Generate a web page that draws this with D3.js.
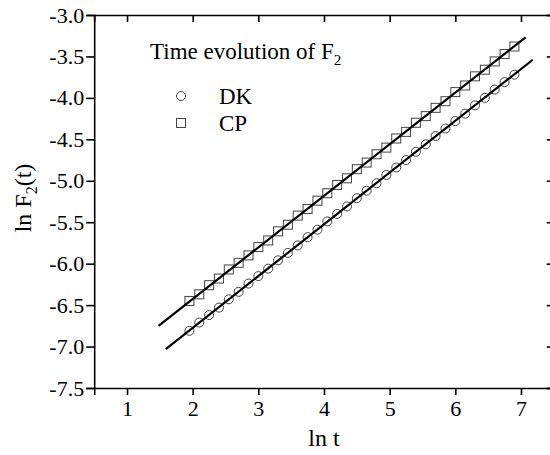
<!DOCTYPE html>
<html>
<head>
<meta charset="utf-8">
<script src="https://cdn.jsdelivr.net/npm/d3@7"></script>
<style>
  html, body { margin: 0; padding: 0; background: #fff; }
  svg { display: block; }
  svg text { font-family: "Liberation Serif", "Times New Roman", serif !important; fill: #000; }
</style>
</head>
<body>
<script>
// ---- data ----
const lnT = [1.95, 2.10, 2.25, 2.40, 2.55, 2.70, 2.85, 3.00, 3.15, 3.30, 3.45, 3.60,
             3.75, 3.90, 4.05, 4.20, 4.35, 4.50, 4.65, 4.80, 4.95, 5.10, 5.25, 5.40,
             5.55, 5.70, 5.85, 6.00, 6.15, 6.30, 6.45, 6.60, 6.75, 6.90];
const cpValues = [-6.45, -6.37, -6.26, -6.18, -6.07, -5.99, -5.90, -5.80, -5.72, -5.61, -5.53, -5.42,
                  -5.34, -5.24, -5.15, -5.05, -4.97, -4.86, -4.78, -4.68, -4.60, -4.49, -4.41, -4.30,
                  -4.22, -4.12, -4.04, -3.93, -3.85, -3.74, -3.66, -3.56, -3.47, -3.38];
const dkValues = [-6.81, -6.71, -6.62, -6.53, -6.43, -6.34, -6.24, -6.15, -6.06, -5.96, -5.87, -5.78,
                  -5.68, -5.59, -5.49, -5.40, -5.31, -5.21, -5.12, -5.03, -4.93, -4.84, -4.75, -4.65,
                  -4.56, -4.46, -4.37, -4.28, -4.19, -4.09, -4.00, -3.90, -3.81, -3.72];
const cpFitX = [1.48, 7.07];
const cpFitY = [-6.75, -3.27];
const dkFitX = [1.59, 7.18];
const dkFitY = [-7.03, -3.54];
const xTicks = [1, 2, 3, 4, 5, 6, 7];
const xMinorTicks = [0.5, 1.5, 2.5, 3.5, 4.5, 5.5, 6.5, 7.5];
const yTicks = [-3.0, -3.5, -4.0, -4.5, -5.0, -5.5, -6.0, -6.5, -7.0, -7.5];
const yMinorTicks = [-3.25, -3.75, -4.25, -4.75, -5.25, -5.75, -6.25, -6.75, -7.25];
const legendTitle = "Time evolution of F";
const legendSub = "2";
const seriesNames = ["DK", "CP"];

// ---- layout ----
const W = 550, H = 455;
const svg = d3.select("body").append("svg").attr("width", W).attr("height", H);

const x = d3.scaleLinear().domain([0.5, 7.5]).range([94.2, 553.8]);
const y = d3.scaleLinear().domain([-7.5, -3.0]).range([388, 15]);

const axisW = 1.6;
const FONT = "Liberation Serif";

// bottom axis: ticks outward
const gB = svg.append("g").attr("transform", `translate(0,${y(-7.5)})`);
gB.call(d3.axisBottom(x).tickValues(xMinorTicks).tickSize(4).tickFormat(""));
gB.call(d3.axisBottom(x).tickValues(xTicks).tickSize(7).tickPadding(5).tickFormat(d => d));
// top axis: ticks inward
const gT = svg.append("g").attr("transform", `translate(0,${y(-3.0)})`);
gT.call(d3.axisBottom(x).tickValues(xMinorTicks).tickSize(4).tickFormat(""));
gT.call(d3.axisBottom(x).tickValues(xTicks).tickSize(7).tickFormat(""));
// left axis: ticks outward
const gL = svg.append("g").attr("transform", `translate(${x(0.5)},0)`);
gL.call(d3.axisLeft(y).tickValues(yMinorTicks).tickSize(4).tickFormat(""));
gL.call(d3.axisLeft(y).tickValues(yTicks).tickSize(8).tickPadding(2).tickFormat(d => d.toFixed(1)));
// right axis: ticks inward
const gR = svg.append("g").attr("transform", `translate(${x(7.5)},0)`);
gR.call(d3.axisLeft(y).tickValues(yMinorTicks).tickSize(4).tickFormat(""));
gR.call(d3.axisLeft(y).tickValues(yTicks).tickSize(7).tickFormat(""));

svg.selectAll("g").attr("font-family", FONT);
svg.selectAll(".domain").attr("stroke", "#000").attr("stroke-width", axisW);
svg.selectAll(".tick line").attr("stroke", "#000").attr("stroke-width", axisW);
svg.selectAll(".tick text").style("font-family", FONT).attr("font-size", 22).attr("fill", "#000");

// ---- markers ----
const plot = svg.append("g");
plot.selectAll("circle.dk").data(lnT).join("circle")
  .attr("class", "dk")
  .attr("cx", d => x(d)).attr("cy", (d, i) => y(dkValues[i])).attr("r", 4.5)
  .attr("fill", "none").attr("stroke", "#444").attr("stroke-width", 1);
plot.selectAll("rect.cp").data(lnT).join("rect")
  .attr("class", "cp")
  .attr("x", d => x(d) - 4.5).attr("y", (d, i) => y(cpValues[i]) - 4.5)
  .attr("width", 9).attr("height", 9)
  .attr("fill", "none").attr("stroke", "#444").attr("stroke-width", 1);

// ---- fit lines ----
const line = d3.line().x(d => x(d[0])).y(d => y(d[1]));
plot.append("path").datum(d3.zip(cpFitX, cpFitY)).attr("d", line)
  .attr("fill", "none").attr("stroke", "#000").attr("stroke-width", 2.2);
plot.append("path").datum(d3.zip(dkFitX, dkFitY)).attr("d", line)
  .attr("fill", "none").attr("stroke", "#000").attr("stroke-width", 2.2);

// ---- legend ----
const lg = svg.append("g");
const t = lg.append("text").attr("x", 150).attr("y", 59).attr("font-size", 23);
t.append("tspan").text(legendTitle);
t.append("tspan").attr("font-size", 15).attr("dy", 6).text(legendSub);
lg.append("circle").attr("cx", 181).attr("cy", 96).attr("r", 4.5)
  .attr("fill", "none").attr("stroke", "#444").attr("stroke-width", 1);
lg.append("text").attr("x", 219).attr("y", 104).attr("font-size", 23).text(seriesNames[0]);
lg.append("rect").attr("x", 176.5).attr("y", 118.5).attr("width", 9).attr("height", 9)
  .attr("fill", "none").attr("stroke", "#444").attr("stroke-width", 1);
lg.append("text").attr("x", 219).attr("y", 131).attr("font-size", 23).text(seriesNames[1]);

// ---- axis titles ----
svg.append("text").attr("x", 324).attr("y", 446).attr("text-anchor", "middle")
  .attr("font-size", 24).text("ln t");
const yl = svg.append("text").attr("transform", "translate(31,198) rotate(-90)")
  .attr("text-anchor", "middle").attr("font-size", 24);
yl.append("tspan").text("ln F");
yl.append("tspan").attr("font-size", 16).attr("dy", 6).text("2");
yl.append("tspan").attr("dy", -6).text("(t)");
</script>
</body>
</html>
